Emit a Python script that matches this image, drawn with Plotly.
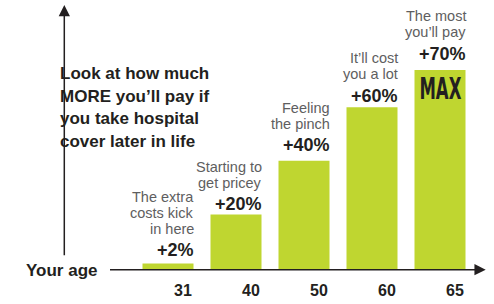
import plotly.graph_objects as go

# ---- data ----
ages = ["31", "40", "50", "60", "65"]
bar_heights = [2.4, 20.4, 40.2, 59.9, 73.6]      # drawn heights
pct_labels = ["+2%", "+20%", "+40%", "+60%", "+70%"]
descriptions = [
    ["The extra", "costs kick", "in here"],
    ["Starting to", "get pricey"],
    ["Feeling", "the pinch"],
    ["It\u2019ll cost", "you a lot"],
    ["The most", "you\u2019ll pay"],
]
title_lines = ["Look at how much", "MORE you\u2019ll pay if",
               "you take hospital", "cover later in life"]
axis_title = "Your age"
max_label = "MAX"

# ---- layout constants ----
W, H = 494, 304
L, R, T, B = 134, 20, 5, 26
PW, PH = W - L - R, H - T - B
YMAX = 97.5
PX_PER = PH / YMAX

GREEN = "#BFD630"
DARK = "#231F20"
GREY = "#5E5E60"
FONT = "Liberation Sans, Arial, Helvetica, sans-serif"


def px_x(p):
    return (p - L) / PW


def px_y(p):
    return (H - B - p) / PH


def val_y(p):
    return (H - B - p) / PX_PER


# label centre positions (pixels from top) for the percentage labels
pct_centres_px = [257.8, 210.5, 149.5, 98.5, 55]

fig = go.Figure()
fig.add_trace(go.Bar(
    x=ages, y=bar_heights, width=0.75,
    marker=dict(color=GREEN, line=dict(width=0)),
    hoverinfo="skip",
))

ann = []
for i, age in enumerate(ages):
    yv = val_y(pct_centres_px[i])
    ann.append(dict(
        x=i, y=yv, xref="x", yref="y", text=pct_labels[i],
        showarrow=False, xanchor="right", yanchor="middle", xshift=27.5,
        font=dict(family=FONT, size=18, color=DARK, weight="bold"),
    ))
    lines = descriptions[i]
    n = len(lines)
    for k, line in enumerate(lines):
        ann.append(dict(
            x=i, y=yv, xref="x", yref="y", text=line,
            showarrow=False, xanchor="right", yanchor="middle", xshift=27.5,
            yshift=21.5 + 16 * (n - 1 - k),
            font=dict(family=FONT, size=14.5, color=GREY),
        ))

# MAX inside the last bar
ann.append(dict(
    x=len(ages) - 1, y=val_y(90.5), xref="x", yref="y", text=max_label,
    showarrow=False, xanchor="center", yanchor="middle",
    font=dict(family="DejaVu Sans, sans-serif", size=31, color=DARK,
              weight="bold"),
))

# title block
for k, line in enumerate(title_lines):
    ann.append(dict(
        x=px_x(58), y=px_y(76 + 23.2 * k), xref="paper", yref="paper",
        text=line, showarrow=False, xanchor="left", yanchor="middle",
        font=dict(family=FONT, size=17, color=DARK, weight="bold"),
    ))

# "Your age"
ann.append(dict(
    x=px_x(99), y=px_y(278.3), xref="paper", yref="paper",
    text=axis_title, showarrow=False, xanchor="right", yanchor="middle",
    font=dict(family=FONT, size=17, color=DARK, weight="bold"),
))

# axis arrows
ann.append(dict(
    x=px_x(485.7), y=px_y(277.7), xref="paper", yref="paper", text="",
    showarrow=True, arrowhead=2, arrowsize=1.5, arrowwidth=1.5,
    arrowcolor=DARK, ax=108.5 - 485.7, ay=0, standoff=0,
))
ann.append(dict(
    x=px_x(64.3), y=px_y(5), xref="paper", yref="paper", text="",
    showarrow=True, arrowhead=2, arrowsize=1.5, arrowwidth=1.5,
    arrowcolor=DARK, ax=0, ay=256.7 - 5, standoff=0,
))

fig.update_layout(
    width=W, height=H,
    margin=dict(l=L, r=R, t=T, b=B, pad=0),
    paper_bgcolor="white", plot_bgcolor="white",
    showlegend=False,
    annotations=ann,
    bargap=0.25,
)
fig.update_xaxes(
    type="category", range=[-0.5, 4.5], showgrid=False, zeroline=False,
    showline=False, ticks="", ticklabelshift=15, ticklabelstandoff=9,
    tickfont=dict(family=FONT, size=16, color=DARK, weight="bold"),
    fixedrange=True,
)
fig.update_yaxes(
    range=[0, YMAX], visible=False, fixedrange=True,
)

# horizontally condense the "MAX" lettering to fit the bar (still real text)
post = """
document.body.style.margin='0';document.body.style.padding='0';
document.querySelectorAll('g.annotation').forEach(function(g){
  var t = g.querySelector('text.annotation-text');
  if(t && t.textContent === 'MAX'){
    var inner = t.parentNode;
    var bb = t.getBBox();
    var cx = bb.x + bb.width / 2;
    var s = 42 / bb.width;
    t.setAttribute('transform',
      'translate(' + cx + ',0) scale(' + s + ',1) translate(' + (-cx) + ',0)');
  }
});
"""

fig.write_html("out.html", config={"displayModeBar": False}, post_script=post)
